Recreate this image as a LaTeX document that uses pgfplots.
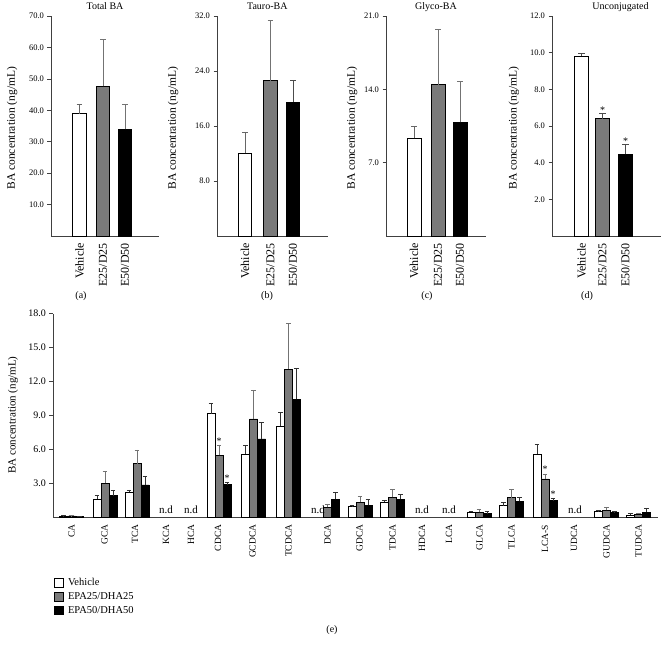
\documentclass[border=0pt]{standalone}
\usepackage{fontspec}
\setmainfont{Liberation Serif}
\usepackage{pgfplots}
\pgfplotsset{compat=1.18}

\newcommand{\fsz}[1]{\fontsize{#1bp}{#1bp}\selectfont}

\pgfplotsset{
  panel/.style={
    scale only axis,
    axis lines=left,
    axis line style={-, black!75, line width=0.6bp},
    enlargelimits=false,
    ymin=0,
    tick align=outside,
    major tick length=3.5bp,
    tick style={black!75, line width=0.6bp},
    xtick style={draw=none},
    /pgf/number format/assume math mode=true,
    yticklabel style={/pgf/number format/fixed, /pgf/number format/fixed zerofill,
      /pgf/number format/precision=1},
    clip=false,
  },
  toppanel/.style={
    panel,
    height=220bp,
    xticklabels={Vehicle,E25/D25,E50/D50},
    xticklabel style={rotate=90, anchor=east, font=\fsz{12}},
    yticklabel style={font=\fsz{8.5}},
    ylabel={BA concentration (ng/mL)},
    ylabel style={font=\fsz{11.5}, anchor=center},
    title style={font=\fsz{10}, anchor=base, yshift=0.5bp},
  },
  wbar/.style={fill=white, draw=black, line width=0.7bp},
  gbar/.style={fill=black!52, draw=black, line width=0.7bp},
  kbar/.style={fill=black, draw=black, line width=0.7bp},
  errb/.style 2 args={error bars/.cd, y dir=plus, y explicit,
    error bar style={line width=0.7bp, #1},
    error mark options={rotate=90, line width=0.7bp, mark size=#2, #1}},
  sqlegend/.style={legend image code/.code={\draw[##1] (0bp,-4.2bp) rectangle (8.5bp,4.2bp);}},
}

\begin{document}
\begin{tikzpicture}
\useasboundingbox (0,0) rectangle (668bp,652bp);

% (a) Total BA
\begin{axis}[toppanel, at={(51bp,416bp)}, anchor=south west,
  width=108bp, xmin=51, xmax=159, ymax=70,
  xtick={79.5,103,125}, ytick={10,20,30,40,50,60,70},
  title={Total BA}, title style={at={(axis description cs:0.5,1)}},
  ylabel style={at={(axis description cs:-0.361,0.49)}}]
\addplot[ybar, bar width=13.5bp, bar shift=0bp, wbar, errb={black!60}{2.8bp}]
  coordinates {(79.5,38.9) +- (0,3.0)};
\addplot[ybar, bar width=13.5bp, bar shift=0bp, gbar, errb={black!55}{2.8bp}]
  coordinates {(103,47.6) +- (0,14.9)};
\addplot[ybar, bar width=13.5bp, bar shift=0bp, kbar, errb={black!55}{2.8bp}]
  coordinates {(125,33.9) +- (0,7.9)};
\end{axis}

% (b) Tauro-BA
\begin{axis}[toppanel, at={(217bp,416bp)}, anchor=south west,
  width=111bp, xmin=217, xmax=328, ymax=32,
  xtick={245,270.5,293}, ytick={8,16,24,32},
  title={Tauro-BA}, title style={at={(axis description cs:0.453,1)}},
  ylabel style={at={(axis description cs:-0.396,0.49)}}]
\addplot[ybar, bar width=13.5bp, bar shift=0bp, wbar, errb={black!60}{2.8bp}]
  coordinates {(245,12.0) +- (0,3.1)};
\addplot[ybar, bar width=13.5bp, bar shift=0bp, gbar, errb={black!55}{2.8bp}]
  coordinates {(270.5,22.6) +- (0,8.7)};
\addplot[ybar, bar width=13.5bp, bar shift=0bp, kbar, errb={black!70}{2.8bp}]
  coordinates {(293,19.5) +- (0,3.1)};
\end{axis}

% (c) Glyco-BA
\begin{axis}[toppanel, at={(386bp,416bp)}, anchor=south west,
  width=100bp, xmin=386, xmax=486, ymax=21,
  xtick={414,438,460}, ytick={7,14,21},
  title={Glyco-BA}, title style={at={(axis description cs:0.5,1)}},
  ylabel style={at={(axis description cs:-0.34,0.49)}}]
\addplot[ybar, bar width=14bp, bar shift=0bp, wbar, errb={black!60}{2.8bp}]
  coordinates {(414,9.32) +- (0,1.12)};
\addplot[ybar, bar width=14bp, bar shift=0bp, gbar, errb={black!55}{2.8bp}]
  coordinates {(438,14.45) +- (0,5.25)};
\addplot[ybar, bar width=14bp, bar shift=0bp, kbar, errb={black!55}{2.8bp}]
  coordinates {(460,10.85) +- (0,3.91)};
\end{axis}

% (d) Unconjugated
\begin{axis}[toppanel, at={(552bp,416bp)}, anchor=south west,
  width=109bp, xmin=552, xmax=661, ymax=12,
  xtick={581.5,602.5,625.5}, ytick={2,4,6,8,10,12},
  title={Unconjugated}, title style={at={(axis description cs:0.628,1)}},
  ylabel style={at={(axis description cs:-0.349,0.49)}}]
\addplot[ybar, bar width=13.5bp, bar shift=0bp, wbar, errb={black!70}{3.2bp}]
  coordinates {(581.5,9.8) +- (0,0.18)};
\addplot[ybar, bar width=13.5bp, bar shift=0bp, gbar, errb={black!70}{3.2bp}]
  coordinates {(602.5,6.4) +- (0,0.3)};
\addplot[ybar, bar width=13.5bp, bar shift=0bp, kbar, errb={black!70}{3.2bp}]
  coordinates {(625.5,4.45) +- (0,0.55)};
\node[anchor=base, font=\fsz{10}] at (axis cs:602.5,6.7) {*};
\node[anchor=base, font=\fsz{10}] at (axis cs:625.5,5.0) {*};
\end{axis}

% (e) individual bile acids
\begin{axis}[panel, at={(53bp,134.3bp)}, anchor=south west,
  width=605bp, height=204bp, xmin=53, xmax=658, ymax=18,
  ytick={3,6,9,12,15,18},
  yticklabel style={font=\fsz{10}},
  xtick={71.5,104.5,135,166,191,218,252.5,288.5,327.5,359.5,392.5,422,449,479.5,511.5,545,574,606.5,638.5},
  xticklabels={CA,GCA,TCA,KCA,HCA,CDCA,GCDCA,TCDCA,DCA,GDCA,TDCA,HDCA,LCA,GLCA,TLCA,LCA-S,UDCA,GUDCA,TUDCA},
  xticklabel style={rotate=90, anchor=east, font=\fsz{9.5}},
  ylabel={BA concentration (ng/mL)},
  ylabel style={font=\fsz{11}, anchor=center, at={(axis description cs:-0.066,0.503)}},
  legend style={at={(axis description cs:-0.003,-0.283)}, anchor=north west,
    draw=none, fill=none, font=\fsz{10.5}, row sep=3.2bp, column sep=3.5bp,
    nodes={inner sep=1bp}},
  legend cell align=left]
% Vehicle
\addplot[ybar, bar width=8bp, bar shift=0bp, wbar, sqlegend, errb={black!80}{2.4bp}]
  coordinates {
    (63.5,0.15) +- (0,0.03)
    (97,1.65) +- (0,0.32)
    (129,2.27) +- (0,0.18)
    (211,9.19) +- (0,0.91)
    (245.5,5.60) +- (0,0.79)
    (280.5,8.10) +- (0,1.21)
    (352,0.97) +- (0,0.09)
    (384.5,1.36) +- (0,0.14)
    (471,0.50) +- (0,0.09)
    (503.5,1.06) +- (0,0.30)
    (537,5.63) +- (0,0.82)
    (598.5,0.56) +- (0,0.06)
    (630.5,0.24) +- (0,0.14)
  };
\addlegendentry{Vehicle}
% EPA25/DHA25
\addplot[ybar, bar width=8bp, bar shift=0bp, gbar, sqlegend, errb={black!55}{2.4bp}]
  coordinates {
    (71.5,0.15) +- (0,0.02)
    (105,3.03) +- (0,1.09)
    (137,4.77) +- (0,1.21)
    (219,5.51) +- (0,0.88)
    (253.5,8.72) +- (0,2.53)
    (288.5,13.11) +- (0,4.01)
    (327.5,0.91) +- (0,0.30)
    (360,1.36) +- (0,0.50)
    (392.5,1.80) +- (0,0.70)
    (479,0.48) +- (0,0.26)
    (511.5,1.77) +- (0,0.73)
    (545,3.42) +- (0,0.44)
    (606.5,0.65) +- (0,0.26)
    (638.5,0.32) +- (0,0.09)
  };
\addlegendentry{EPA25/DHA25}
% EPA50/DHA50
\addplot[ybar, bar width=8bp, bar shift=0bp, kbar, sqlegend, errb={black!80}{2.4bp}]
  coordinates {
    (79.5,0.12) +- (0,0.02)
    (113,1.94) +- (0,0.48)
    (145,2.89) +- (0,0.73)
    (227,2.92) +- (0,0.20)
    (261.5,6.95) +- (0,1.48)
    (296.5,10.43) +- (0,2.77)
    (335.5,1.62) +- (0,0.62)
    (368,1.09) +- (0,0.53)
    (400.5,1.62) +- (0,0.44)
    (487,0.35) +- (0,0.21)
    (519.5,1.44) +- (0,0.36)
    (553,1.50) +- (0,0.21)
    (614.5,0.44) +- (0,0.15)
    (646.5,0.50) +- (0,0.32)
  };
\addlegendentry{EPA50/DHA50}
% not detected
\node[anchor=base, font=\fsz{11}, yshift=4.5bp] at (axis cs:166,0) {n.d};
\node[anchor=base, font=\fsz{11}, yshift=4.5bp] at (axis cs:191,0) {n.d};
\node[anchor=base, font=\fsz{11}, yshift=4.5bp] at (axis cs:318,0) {n.d};
\node[anchor=base, font=\fsz{11}, yshift=4.5bp] at (axis cs:422,0) {n.d};
\node[anchor=base, font=\fsz{11}, yshift=4.5bp] at (axis cs:449,0) {n.d};
\node[anchor=base, font=\fsz{11}, yshift=4.5bp] at (axis cs:575,0) {n.d};
% significance marks
\node[anchor=base, font=\fsz{10}, yshift=1bp] at (axis cs:219,6.39) {*};
\node[anchor=base, font=\fsz{10}, yshift=1bp] at (axis cs:227,3.12) {*};
\node[anchor=base, font=\fsz{10}, yshift=1bp] at (axis cs:545,3.86) {*};
\node[anchor=base, font=\fsz{10}, yshift=1bp] at (axis cs:553,1.71) {*};
\end{axis}

% panel letters
\node[font=\fsz{10}] at (81bp,356bp) {(a)};
\node[font=\fsz{10}] at (267bp,356bp) {(b)};
\node[font=\fsz{10}] at (427bp,356bp) {(c)};
\node[font=\fsz{10}] at (587bp,356bp) {(d)};
\node[font=\fsz{10}] at (332bp,22bp) {(e)};
\end{tikzpicture}
\end{document}
